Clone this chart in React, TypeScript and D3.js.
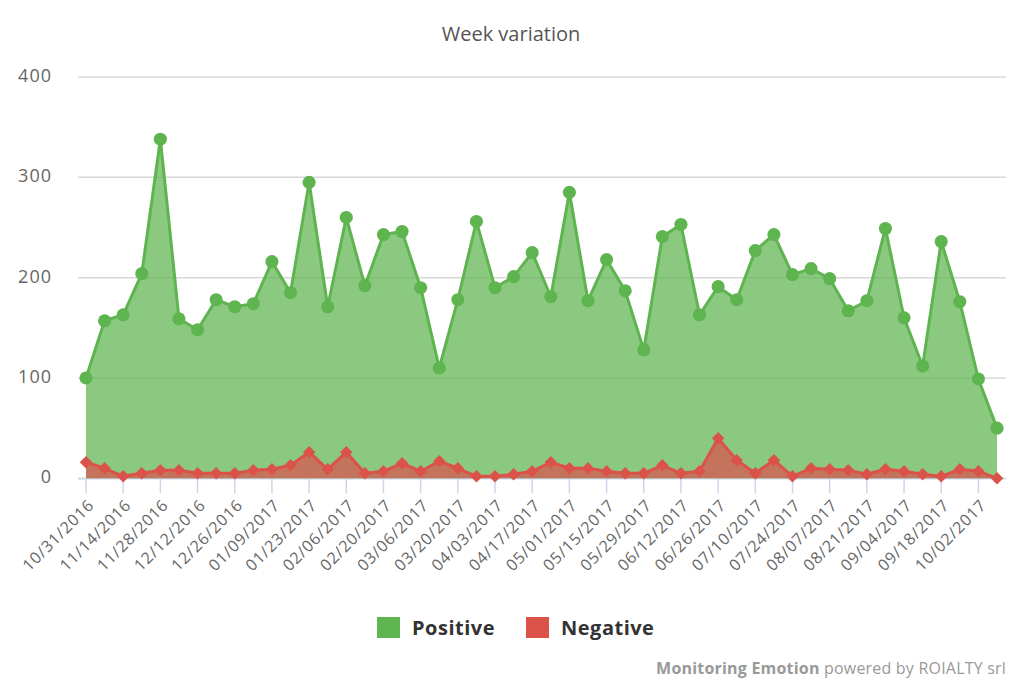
import React, { useEffect, useRef } from 'react';
import * as d3 from 'd3';

const width = 1024;
const height = 683;

const positive = [
  100, 157, 163, 204, 338, 159, 148, 178, 171, 174,
  216, 185, 295, 171, 260, 192, 243, 246, 190, 110,
  178, 256, 190, 201, 225, 181, 285, 177, 218, 187,
  128, 241, 253, 163, 191, 178, 227, 243, 203, 209,
  199, 167, 177, 249, 160, 112, 236, 176, 99, 50,
];

const negative = [
  16, 10, 2, 5, 8, 8, 5, 5, 5, 8,
  9, 13, 26, 9, 26, 5, 7, 15, 7, 17,
  10, 2, 2, 4, 7, 16, 10, 10, 7, 5,
  5, 13, 5, 7, 40, 18, 5, 18, 2, 10,
  9, 8, 4, 9, 7, 4, 2, 9, 7, 0,
];

const tickLabels = [
  '10/31/2016', '11/14/2016', '11/28/2016', '12/12/2016', '12/26/2016',
  '01/09/2017', '01/23/2017', '02/06/2017', '02/20/2017', '03/06/2017',
  '03/20/2017', '04/03/2017', '04/17/2017', '05/01/2017', '05/15/2017',
  '05/29/2017', '06/12/2017', '06/26/2017', '07/10/2017', '07/24/2017',
  '08/07/2017', '08/21/2017', '09/04/2017', '09/18/2017', '10/02/2017',
];

const yTicks = [0, 100, 200, 300, 400];

const series = [
  { name: 'Positive', values: positive, color: '#5eb44f', fill: '#5eb44f', marker: 'circle' },
  { name: 'Negative', values: negative, color: '#db5248', fill: '#d9534f', marker: 'diamond' },
];

const plot = { left: 78, right: 1006, x0: 86, x1: 997, top: 77, bottom: 478.3 };
const font = '"Open Sans", "DejaVu Sans", sans-serif';

export default function App() {
  const ref = useRef<SVGSVGElement>(null);

  useEffect(() => {
    if (!ref.current) return;
    const svg = d3.select(ref.current);
    svg.selectAll('*').remove();

    const x = d3.scaleLinear().domain([0, positive.length - 1]).range([plot.x0, plot.x1]);
    const y = d3.scaleLinear().domain([0, 400]).range([plot.bottom, plot.top]);

    svg
      .append('rect')
      .attr('width', width)
      .attr('height', height)
      .attr('fill', '#ffffff');

    // title
    svg
      .append('text')
      .attr('x', 511)
      .attr('y', 41)
      .attr('text-anchor', 'middle')
      .style('font-family', font)
      .style('font-size', '20px')
      .attr('fill', '#555555')
      .text('Week variation');

    // y grid + labels
    const yAxis = svg.append('g');
    yTicks.forEach((t) => {
      yAxis
        .append('line')
        .attr('x1', plot.left)
        .attr('x2', plot.right)
        .attr('y1', y(t))
        .attr('y2', y(t))
        .attr('stroke', '#d8d8d8')
        .attr('stroke-width', 1.5);
      yAxis
        .append('text')
        .attr('x', 52)
        .attr('y', y(t) + 5)
        .attr('text-anchor', 'end')
        .style('font-family', font)
        .style('font-size', '18px')
        .style('letter-spacing', '1px')
        .attr('fill', '#666666')
        .text(t);
    });

    // x axis (under the series markers)
    const xAxis = svg.append('g');
    xAxis
      .append('line')
      .attr('x1', plot.left)
      .attr('x2', plot.right)
      .attr('y1', plot.bottom + 0.5)
      .attr('y2', plot.bottom + 0.5)
      .attr('stroke', '#ccd6eb')
      .attr('stroke-width', 1.5);
    tickLabels.forEach((label, k) => {
      const tx = x(k * 2);
      xAxis
        .append('line')
        .attr('x1', tx)
        .attr('x2', tx)
        .attr('y1', plot.bottom)
        .attr('y2', plot.bottom + 15)
        .attr('stroke', '#ccd6eb')
        .attr('stroke-width', 1.5);
      xAxis
        .append('text')
        .attr('transform', `translate(${tx + 5},${plot.bottom + 24}) rotate(-45)`)
        .attr('text-anchor', 'end')
        .attr('dy', '0.35em')
        .style('font-family', font)
        .style('font-size', '16px')
        .style('letter-spacing', '0.8px')
        .attr('fill', '#666666')
        .text(label);
    });

    // areas, lines and markers
    series.forEach((s) => {
      const area = d3
        .area<number>()
        .x((_, i) => x(i))
        .y0(y(0))
        .y1((d) => y(d));
      const line = d3
        .line<number>()
        .x((_, i) => x(i))
        .y((d) => y(d));

      const g = svg.append('g');
      g.append('path')
        .attr('d', area(s.values) ?? '')
        .attr('fill', s.fill)
        .attr('fill-opacity', 0.72);
      g.append('path')
        .attr('d', line(s.values) ?? '')
        .attr('fill', 'none')
        .attr('stroke', s.color)
        .attr('stroke-width', 3)
        .attr('stroke-linejoin', 'round');

      const isCircle = s.marker === 'circle';
      const sym = d3
        .symbol()
        .type(isCircle ? d3.symbolCircle : d3.symbolSquare)
        .size(isCircle ? 135 : 78);
      g.selectAll('path.marker')
        .data(s.values)
        .enter()
        .append('path')
        .attr('class', 'marker')
        .attr('d', sym() ?? '')
        .attr('transform', (d, i) => `translate(${x(i)},${y(d)})${isCircle ? '' : ' rotate(45)'}`)
        .attr('fill', s.color);
    });

    // legend
    const legend = svg.append('g');
    const legendX = [377, 526];
    series.forEach((s, i) => {
      legend
        .append('rect')
        .attr('x', legendX[i])
        .attr('y', 617)
        .attr('width', 23)
        .attr('height', 21)
        .attr('fill', s.color);
      legend
        .append('text')
        .attr('x', legendX[i] + 35)
        .attr('y', 635)
        .style('font-family', font)
        .style('font-size', '20px')
        .style('font-weight', 'bold')
        .style('letter-spacing', '0.5px')
        .attr('fill', '#333333')
        .text(s.name);
    });

    // credits
    const credits = svg
      .append('text')
      .attr('x', 1006)
      .attr('y', 674)
      .attr('text-anchor', 'end')
      .style('font-family', font)
      .style('font-size', '16px')
      .style('letter-spacing', '0.2px')
      .attr('fill', '#999999');
    credits.append('tspan').style('font-weight', 'bold').text('Monitoring Emotion');
    credits.append('tspan').text(' powered by ROIALTY srl');
  }, []);

  return (
    <svg
      ref={ref}
      width={width}
      height={height}
      style={{ position: 'absolute', left: 0, top: 0, display: 'block' }}
    />
  );
}
